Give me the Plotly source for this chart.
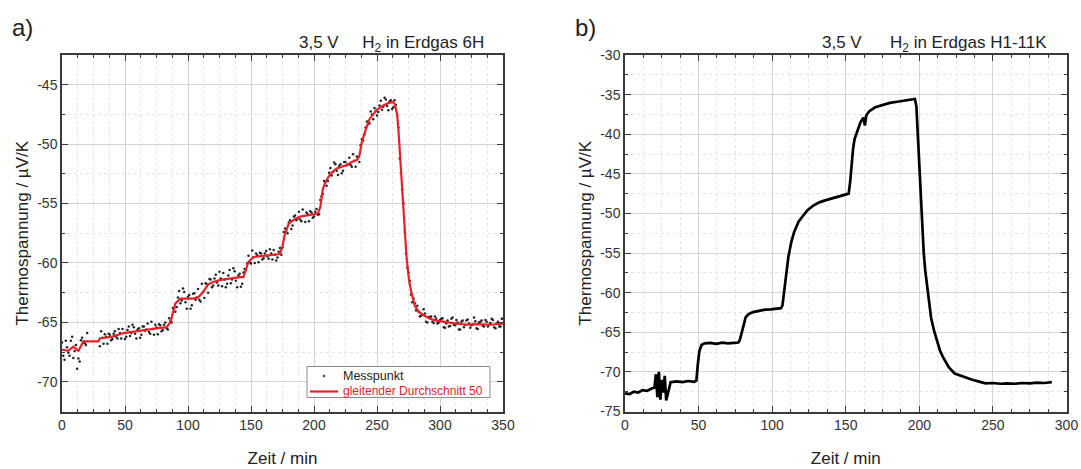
import plotly.graph_objects as go

# ---------------- Panel a) data ----------------
# measured points (even minutes)
a_meas_t = [0, 2, 4, 6, 8, 10, 12, 14, 16, 18, 20,
            30, 32, 34, 36, 38, 40, 42, 44, 46, 48, 50, 52, 54, 56, 58, 60, 62, 64, 66, 68,
            70, 72, 74, 76, 78, 80, 82, 84, 86, 88, 90, 92, 94, 96, 98, 100, 102, 104, 106, 108,
            110, 112, 114, 116, 118, 120, 122, 124, 126, 128, 130, 132, 134, 136, 138, 140, 142, 144,
            146, 148, 150, 152, 154, 156, 158, 160, 162, 164, 166, 168, 170, 172, 174,
            176, 178, 180, 182, 184, 186, 188, 190, 192, 194, 196, 198, 200, 202, 204,
            206, 208, 210, 212, 214, 216, 218, 220, 222, 224, 226, 228, 230, 232, 234, 236,
            238, 240, 242, 244, 246, 248, 250, 252, 254, 256, 258, 260, 262, 264,
            266, 268, 270, 272, 274, 276, 278, 280,
            282, 284, 286, 288, 290, 292, 294, 296, 298, 300, 302, 304, 306, 308, 310, 312, 314,
            316, 318, 320, 322, 324, 326, 328, 330, 332, 334, 336, 338, 340, 342, 344, 346, 348, 350]
a_meas_v = [-66.7, -68.15, -67.1, -67.8, -66.2, -67.4, -68.9, -68.3, -66.3, -66.75, -65.9,
            -67.0, -66.3, -66.0, -66.8, -66.05, -66.4, -65.75, -66.35, -65.9, -65.55, -66.4, -65.65,
            -66.15, -65.2, -65.95, -65.6, -66.3, -65.35, -65.7, -65.1,
            -65.95, -65.55, -65.2, -66.0, -65.25, -65.65, -65.0, -65.6, -64.9, -63.8,
            -64.1, -62.9, -63.4, -62.15, -63.3, -62.85, -63.85, -62.6, -63.1, -62.2,
            -63.25, -62.45, -61.7, -62.5, -61.4, -61.9, -61.0, -61.9, -61.3, -60.85,
            -62.05, -61.05, -61.7, -60.45, -61.5, -61.05, -62.0, -60.8,
            -60.6, -59.4, -60.05, -59.5, -59.2, -59.95, -59.2, -59.6, -59.0, -59.65, -59.2,
            -58.9, -59.8, -59.05, -59.3,
            -57.4, -57.3, -56.6, -57.15, -56.1, -56.4, -55.7, -56.5, -56.05, -55.75, -56.5,
            -55.75, -56.1, -55.45, -55.9,
            -54.4, -53.1, -53.5, -52.4, -52.65, -51.55, -52.25, -51.85, -52.45, -51.5, -51.8,
            -51.15, -51.9, -51.4, -51.05, -51.5,
            -49.6, -49.2, -48.1, -48.25, -47.5, -46.95, -47.6, -46.75, -47.1, -46.1, -46.8,
            -46.4, -47.05, -46.3,
            -47.6, -51.2, -53.8, -57.4, -60.4, -61.5, -63.3, -63.4,
            -63.6, -64.5, -64.35, -64.25, -65.0, -64.55, -64.95, -64.5, -65.1, -64.8, -64.65,
            -65.45, -64.85, -65.3, -64.6, -65.25, -65.0,
            -65.6, -64.85, -65.2, -64.75, -65.45, -65.15, -64.9, -65.55, -64.95, -65.3, -64.8,
            -65.35, -65.05, -64.8, -65.5, -64.95, -65.35, -64.7]

# measured points (odd minutes)
a_meas2_t = [1, 3, 5, 7, 9, 11, 13, 15, 17, 19,
             31, 33, 35, 37, 39, 41, 43, 45, 47, 49, 51, 53, 55, 57, 59, 61, 63, 65, 67, 69,
             71, 73, 75, 77, 79, 81, 83, 85, 87,
             89, 91, 93, 95, 97, 99, 101, 103, 105, 107, 109, 111, 113, 115, 117, 119, 121, 123,
             125, 127, 129, 131, 133, 135, 137, 139, 141, 143, 145,
             147, 149, 151, 153, 155, 157, 159, 161, 163, 165, 167, 169, 171, 173, 175,
             177, 179, 181, 183, 185, 187, 189, 191, 193, 195, 197, 199, 201, 203, 205,
             207, 209, 211, 213, 215, 217, 219, 221, 223, 225, 227, 229, 231, 233, 235, 237,
             239, 241, 243, 245, 247, 249, 251, 253, 255, 257, 259, 261, 263, 265,
             267, 269, 271, 273, 275, 277, 279, 281,
             283, 285, 287, 289, 291, 293, 295, 297, 299, 301, 303, 305, 307, 309, 311, 313, 315,
             317, 319, 321, 323, 325, 327, 329, 331, 333, 335, 337, 339, 341, 343, 345, 347, 349]
a_meas2_v = [-67.8, -66.55, -67.55, -66.55, -68.0, -66.9, -68.05, -66.5, -66.6, -66.9,
             -65.75, -66.8, -66.2, -65.95, -66.5, -65.95, -66.2, -65.55, -66.35, -65.9,
             -66.2, -65.35, -65.9, -65.4, -66.35, -65.5, -66.05, -65.35, -65.6, -65.8,
             -64.95, -66.05, -65.4, -65.15, -65.75, -65.2, -65.5, -64.65, -65.0,
             -63.8, -63.7, -62.35, -63.15, -62.45, -63.85, -62.7, -63.55, -62.55, -62.9,
             -63.1, -61.75, -62.95, -61.8, -61.35, -62.05, -61.3, -61.65, -60.75, -61.95,
             -61.4, -61.75, -60.6, -61.4, -60.7, -62.05, -60.9, -61.75, -60.5,
             -60.05, -59.95, -58.95, -60.0, -59.35, -59.15, -59.7, -59.2, -59.45, -58.85,
             -59.7, -59.3, -59.55, -58.75, -58.7,
             -57.1, -57.5, -56.4, -56.85, -56.0, -56.25, -56.35, -55.5, -56.55, -55.9,
             -55.65, -56.2, -55.7, -55.95, -54.7,
             -54.2, -53.2, -53.1, -52.0, -52.35, -51.7, -52.6, -51.7, -52.25, -51.5, -51.7,
             -51.75, -50.85, -51.9, -51.1, -50.1,
             -49.7, -48.6, -48.3, -47.25, -47.9, -47.2, -47.3, -46.35, -46.85, -46.25, -47.15,
             -46.3, -46.9, -46.7,
             -48.6, -52.4, -55.0, -59.2, -60.8, -62.65, -63.0, -64.0,
             -64.1, -64.45, -63.9, -64.95, -64.55, -64.5, -65.05, -64.7, -65.0, -64.7, -65.4,
             -65.1, -65.35, -64.7, -65.2, -64.8, -65.6,
             -64.95, -65.4, -64.85, -65.1, -65.25, -64.6, -65.5, -65.0, -64.85, -65.35, -64.95,
             -65.2, -64.7, -65.4, -65.1, -65.35, -64.7]

# moving average (50)
a_avg_t = [0, 5, 9, 13, 17, 22, 29, 30, 35, 40, 49, 58, 67, 75, 83, 86, 88, 90, 94, 100,
           104, 108, 112, 116, 120, 125, 133, 141, 144, 146.6, 148, 152, 160, 167, 173, 175,
           177, 180, 185, 189, 196, 203, 205, 207, 209, 213, 218, 225, 230, 234, 236, 238,
           241, 244, 250, 255, 259, 262.7, 264, 266, 267, 269.6, 271.5, 273.5, 275.5, 277.5,
           280, 283, 287, 292, 297, 305, 313, 321, 330, 340, 350]
a_avg_v = [-67.3, -67.4, -67.05, -67.4, -66.6, -66.6, -66.6, -66.35, -66.3, -66.2, -65.9,
           -65.75, -65.6, -65.5, -65.4, -65.0, -64.2, -63.4, -63.0, -63.0, -63.0, -62.9,
           -62.45, -61.8, -61.6, -61.45, -61.3, -61.2, -61.2, -60.2, -59.9, -59.5, -59.4,
           -59.3, -59.25, -58.6, -57.5, -56.7, -56.3, -56.1, -56.0, -55.85, -55.3, -53.8,
           -53.2, -52.5, -52.05, -51.8, -51.5, -51.35, -51.0, -49.8, -48.8, -47.9, -47.1,
           -46.75, -46.55, -46.45, -46.6, -47.5, -48.8, -53.0, -56.5, -59.6, -61.5, -62.6,
           -63.6, -64.1, -64.4, -64.7, -64.85, -65.0, -65.1, -65.2, -65.15, -65.2, -65.1]

# ---------------- Panel b) data ----------------
b_t = [0, 3, 6, 9, 12, 15, 18, 20,
       21, 22, 23, 24, 25, 26, 27, 28,
       31, 35, 39, 43, 47,
       48.5, 49.5, 50.5, 52, 54,
       58, 62, 66, 70, 74, 77,
       78, 79, 80, 81, 82, 84, 87,
       91, 95, 99, 103, 106,
       107, 108, 109, 110, 111, 113, 115,
       118, 121, 124, 128, 132, 136, 140, 144, 148, 151,
       152, 153, 154, 155, 156, 158, 160, 162, 163, 164, 166,
       170, 175, 180, 185, 190, 194, 197,
       198, 199, 200, 201, 202, 203, 204, 206, 208, 210, 212, 214, 216, 218, 220,
       224, 228, 232, 236, 240, 245, 250, 255, 260, 265, 270, 275, 280, 285, 290]
b_v = [-72.7, -72.8, -72.5, -72.6, -72.3, -72.4, -72.1, -72.0,
       -70.3, -73.2, -70.0, -73.5, -71.0, -72.6, -70.5, -73.6,
       -71.3, -71.2, -71.3, -71.15, -71.25,
       -71.1, -69.0, -67.4, -66.6, -66.4,
       -66.35, -66.45, -66.3, -66.4, -66.35, -66.3,
       -66.0, -65.2, -64.3, -63.6, -63.1, -62.7, -62.45,
       -62.3, -62.15, -62.1, -62.0, -61.95,
       -61.6, -60.2, -58.5, -56.8, -55.5, -53.6, -52.3,
       -51.0, -50.3, -49.6, -49.0, -48.6, -48.35, -48.15, -47.95, -47.75, -47.6,
       -47.5, -46.0, -43.8, -41.8, -40.6, -39.4, -38.5, -37.9, -38.9, -37.6, -37.1,
       -36.6, -36.3, -36.05, -35.9, -35.75, -35.65, -35.55,
       -36.5, -40.5, -44.5, -48.5, -52.0, -55.0, -57.2, -60.5, -63.2, -64.8, -66.2,
       -67.3, -68.1, -68.8, -69.4,
       -70.2, -70.5, -70.75, -71.0, -71.2, -71.45, -71.4, -71.5, -71.45, -71.5, -71.4,
       -71.45, -71.35, -71.4, -71.3]

# tick labels (ASCII hyphen as in the reference)
a_yticks = [-70, -65, -60, -55, -50, -45]
b_yticks = [-75, -70, -65, -60, -55, -50, -45, -40, -35, -30]

# legend labels
legend_labels = ["Messpunkt", "gleitender Durchschnitt 50"]

FONT = "Liberation Sans, Arial, sans-serif"
TXT = "#333333"
RED = "#e8202a"
W, H = 1081, 469


def px(x):
    return x / W


def py(y):
    return 1 - y / H


fig = go.Figure()
fig.add_trace(go.Scatter(x=a_meas_t + a_meas2_t, y=a_meas_v + a_meas2_v, mode="markers",
                         name=legend_labels[0], showlegend=False,
                         marker=dict(size=2.5, color="#222222"), xaxis="x", yaxis="y"))
fig.add_trace(go.Scatter(x=a_avg_t, y=a_avg_v, mode="lines", name=legend_labels[1],
                         showlegend=False,
                         line=dict(color=RED, width=2.2), xaxis="x", yaxis="y"))
fig.add_trace(go.Scatter(x=b_t, y=b_v, mode="lines", showlegend=False,
                         line=dict(color="black", width=2.7), xaxis="x2", yaxis="y2"))


def ax(rng, dtick, minor, domain, anchor, title=None, tick0=0, tickvals=None, standoff=6):
    d = dict(range=rng, dtick=dtick, tick0=tick0, domain=domain, anchor=anchor,
             automargin=False,
             showline=True, linecolor="#3a3a3a", linewidth=1.5, mirror="ticks",
             ticks="inside", ticklen=6, tickwidth=1.3, tickcolor="#3a3a3a",
             showgrid=True, gridcolor="#d4d4d4", gridwidth=1, zeroline=False,
             tickfont=dict(family=FONT, size=14, color=TXT),
             minor=dict(dtick=minor, ticks="inside", ticklen=3, tickcolor="#3a3a3a",
                        showgrid=True, gridcolor="#e4e4e4", griddash="dot"))
    if tickvals is not None:
        d["tickmode"] = "array"
        d["tickvals"] = tickvals
        d["ticktext"] = [str(v) for v in tickvals]
    if title:
        d["title"] = dict(text=title, font=dict(family=FONT, size=17, color="#222"),
                          standoff=standoff)
    return d


yl = "Thermospannung / µV/K"

# hand-drawn legend box (panel a)
shapes = [
    dict(type="rect", xref="paper", yref="paper", x0=px(307), x1=px(490), y0=py(397.5),
         y1=py(366.5), fillcolor="white", line=dict(color="#8a8a8a", width=1), layer="above"),
    dict(type="line", xref="paper", yref="paper", x0=px(310), x1=px(338), y0=py(391.5),
         y1=py(391.5), line=dict(color=RED, width=2.2), layer="above"),
    dict(type="circle", xref="paper", yref="paper", x0=px(323), x1=px(325), y0=py(377),
         y1=py(375), fillcolor="#333", line=dict(color="#333", width=0.5), layer="above"),
]

annotations = [
    dict(text="a)", x=px(10), y=py(27), xref="paper", yref="paper",
         xanchor="left", yanchor="middle", showarrow=False,
         font=dict(family=FONT, size=24, color="#222")),
    dict(text="b)", x=px(573), y=py(27), xref="paper", yref="paper",
         xanchor="left", yanchor="middle", showarrow=False,
         font=dict(family=FONT, size=24, color="#222")),
    dict(text="3,5 V\u00a0\u00a0\u00a0\u00a0\u00a0H<sub>2</sub> in Erdgas 6H",
         x=px(486), y=py(44), xref="paper", yref="paper",
         xanchor="right", yanchor="middle", showarrow=False,
         font=dict(family=FONT, size=17, color="#222")),
    dict(text="3,5 V\u00a0\u00a0\u00a0\u00a0\u00a0\u00a0H<sub>2</sub> in Erdgas H1-11K",
         x=px(1049), y=py(44), xref="paper", yref="paper",
         xanchor="right", yanchor="middle", showarrow=False,
         font=dict(family=FONT, size=17, color="#222")),
    dict(text=legend_labels[0], x=px(341), y=py(376), xref="paper", yref="paper",
         xanchor="left", yanchor="middle", showarrow=False,
         font=dict(family=FONT, size=12.5, color="#222")),
    dict(text=legend_labels[1], x=px(341), y=py(391), xref="paper", yref="paper",
         xanchor="left", yanchor="middle", showarrow=False,
         font=dict(family=FONT, size=12, color=RED)),
]

fig.update_layout(
    width=W, height=H, margin=dict(l=0, r=0, t=0, b=0),
    paper_bgcolor="white", plot_bgcolor="white",
    xaxis=ax([0, 350], 50, 12.5, [px(62), px(503)], "y", "Zeit / min", standoff=20),
    yaxis=ax([-72.5, -42.5], 5, 2.5, [1 - 411.5 / H, 1 - 55 / H], "x", yl,
             tickvals=a_yticks, standoff=4),
    xaxis2=ax([0, 300], 50, 12.5, [px(625), px(1066.5)], "y2", "Zeit / min", standoff=20),
    yaxis2=ax([-75, -30], 5, 2.5, [1 - 411.5 / H, 1 - 55 / H], "x2", yl,
              tickvals=b_yticks, standoff=4),
    showlegend=False,
    shapes=shapes,
    annotations=annotations,
)

fig.write_html("out.html", config={"displayModeBar": False})

# remove the default page margin so the figure sits at the window's top-left corner
with open("out.html", "r", encoding="utf-8") as f:
    html = f.read()
html = html.replace("<body>", '<body style="margin:0;padding:0;overflow:hidden;">', 1)
with open("out.html", "w", encoding="utf-8") as f:
    f.write(html)
